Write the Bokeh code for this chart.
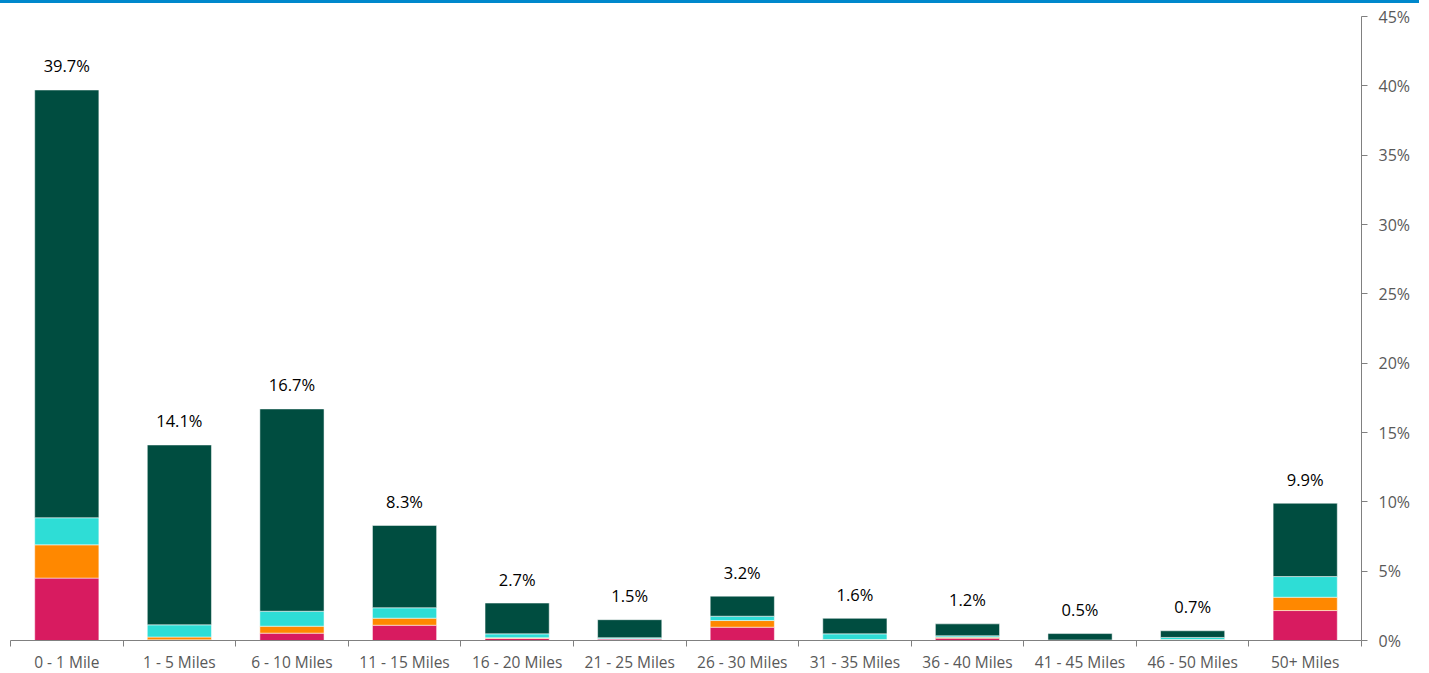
from bokeh.plotting import figure
from bokeh.models import (FactorRange, Range1d, LinearAxis, CategoricalAxis, FixedTicker,
                          PrintfTickFormatter, ColumnDataSource, Div)
from bokeh.layouts import column
from bokeh.core.properties import value
from bokeh.embed import file_html
from bokeh.resources import INLINE

categories = ["0 - 1 Mile", "1 - 5 Miles", "6 - 10 Miles", "11 - 15 Miles", "16 - 20 Miles",
              "21 - 25 Miles", "26 - 30 Miles", "31 - 35 Miles", "36 - 40 Miles",
              "41 - 45 Miles", "46 - 50 Miles", "50+ Miles"]
pink = [4.50, 0.05, 0.53, 1.10, 0.15, 0.10, 0.96, 0.02, 0.17, 0.01, 0.03, 2.16]
orange = [2.40, 0.20, 0.50, 0.51, 0.05, 0.03, 0.48, 0.05, 0.07, 0.01, 0.04, 0.96]
cyan = [1.95, 0.88, 1.08, 0.75, 0.28, 0.07, 0.31, 0.41, 0.10, 0.02, 0.15, 1.49]
green = [30.85, 12.97, 14.59, 5.94, 2.22, 1.30, 1.45, 1.12, 0.86, 0.46, 0.48, 5.29]
totals = [39.7, 14.1, 16.7, 8.3, 2.7, 1.5, 3.2, 1.6, 1.2, 0.5, 0.7, 9.9]
total_labels = ["39.7%", "14.1%", "16.7%", "8.3%", "2.7%", "1.5%", "3.2%", "1.6%",
                "1.2%", "0.5%", "0.7%", "9.9%"]
y_ticks = [0, 5, 10, 15, 20, 25, 30, 35, 40, 45]

FONT = "Open Sans"
AXIS_COLOR = "#808080"
LABEL_COLOR = "#595959"

src = ColumnDataSource(dict(cat=categories, pink=pink, orange=orange, cyan=cyan,
                            green=green, total=totals, label=total_labels))

p = figure(x_range=FactorRange(*categories), y_range=Range1d(0, 45),
           frame_width=1351, frame_height=624,
           min_border_left=10, min_border_top=13, min_border_right=68, min_border_bottom=0,
           output_backend="svg", toolbar_location=None,
           x_axis_location=None, y_axis_location="right", margin=0)
p.outline_line_color = None
p.xgrid.visible = False
p.ygrid.visible = False
p.background_fill_color = "white"
p.border_fill_color = "white"

# right y axis
ya = p.yaxis[0]
ya.ticker = FixedTicker(ticks=y_ticks)
ya.formatter = PrintfTickFormatter(format="%d%%")
ya.axis_line_color = AXIS_COLOR
ya.major_tick_line_color = AXIS_COLOR
ya.major_tick_out = 6
ya.major_tick_in = 0
ya.minor_tick_line_color = None
ya.major_label_text_font = FONT
ya.major_label_text_font_size = "16px"
ya.major_label_text_color = LABEL_COLOR
ya.major_label_standoff = 11

# bottom: ticks at category boundaries (synthetic coordinates), then categorical labels
n = len(categories)
tick_axis = LinearAxis(ticker=FixedTicker(ticks=list(range(n + 1))),
                       major_label_overrides={i: "" for i in range(n + 1)},
                       major_label_text_font_size="1px", major_label_standoff=0,
                       major_tick_out=6, major_tick_in=0, minor_tick_line_color=None,
                       axis_line_color=AXIS_COLOR, major_tick_line_color=AXIS_COLOR)
p.add_layout(tick_axis, "below")
cat_axis = CategoricalAxis(axis_line_color=None, major_tick_line_color=None,
                           minor_tick_line_color=None, major_tick_out=0, major_tick_in=0,
                           major_label_standoff=4, major_label_text_font=FONT,
                           major_label_text_font_size="15.5px",
                           major_label_text_color=LABEL_COLOR)
p.add_layout(cat_axis, "below")

p.vbar_stack(["pink", "orange", "cyan", "green"], x="cat", width=0.57, source=src,
             fill_color=["#D81B60", "#FF8800", "#2EDDD6", "#004D40"],
             line_color="white", line_alpha=0.5, line_width=1)

p.text(x="cat", y="total", text="label", source=src, text_align="center",
       text_baseline="alphabetic", y_offset=-24, text_font=value(FONT),
       text_font_size="16.5px", text_color="#000000")

bar = Div(width=1419, height=3, margin=0, styles={"background-color": "#0088CC"})
layout = column(bar, p, spacing=0, margin=0)

open("out.html", "w").write(file_html(layout, INLINE))
